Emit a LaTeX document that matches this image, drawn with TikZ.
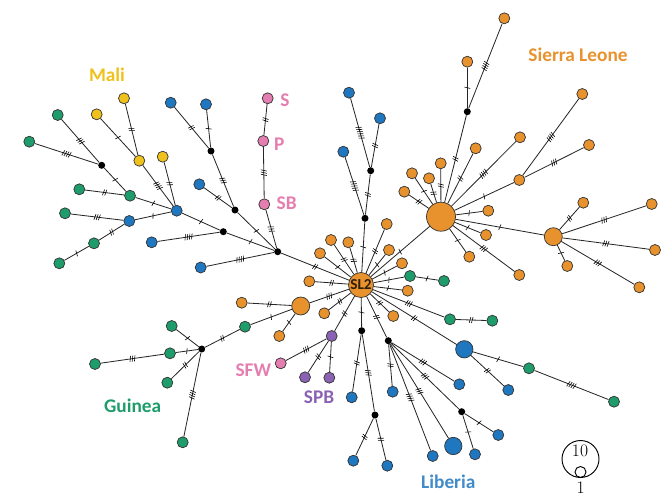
\documentclass[tikz,border=0pt]{standalone}
\usepackage{fontspec}
\usetikzlibrary{decorations.markings}
\newfontfamily\labfont{Carlito}

\definecolor{slo}{HTML}{E8922E}
\definecolor{lib}{HTML}{1F77C0}
\definecolor{gui}{HTML}{1F9C6B}
\definecolor{mal}{HTML}{EEC11C}
\definecolor{pnk}{HTML}{E57EB0}
\definecolor{prp}{HTML}{8B62B3}

\tikzset{
  hap/.style={circle, draw=black!80, line width=0.6pt, inner sep=0pt, minimum size=0.33cm},
  orng/.style={hap, fill=slo},
  blu/.style={hap, fill=lib},
  grn/.style={hap, fill=gui},
  ylw/.style={hap, fill=mal},
  pink/.style={hap, fill=pnk},
  purp/.style={hap, fill=prp},
  vx/.style={circle, fill=black, inner sep=0pt, minimum size=0.21cm},
  link/.style={line width=0.7pt, black!85},
  hatch/.style={postaction={decorate, decoration={markings, mark=at position 0.5 with {
      \foreach \k in {1,...,#1} {\draw[line width=0.5pt, black] ({(\k-0.5-#1/2)*1.9pt-0.6pt},-2.5pt) -- ++(1.2pt,5pt);}
  }}}},
  region/.style={font=\labfont\bfseries\fontsize{16.5}{18}\selectfont}
}

\begin{document}
\begin{tikzpicture}[x=0.03cm, y=-0.03cm]
  \useasboundingbox (0,0) rectangle (667,500);

  % haplotypes
  \node[orng, minimum size=0.75cm, font=\labfont\bfseries\fontsize{13}{13}\selectfont, text=black!80!slo] (SL2) at (361,285) {SL2};
  \node[orng, minimum size=0.87cm] (hubS) at (441,216.7) {};
  \node[orng, minimum size=0.54cm] (hub2) at (553.3,236.7) {};
  \node[orng, minimum size=0.54cm] (mO) at (300.7,306) {};
  \node[blu, minimum size=0.52cm] (bD3) at (453.3,446) {};
  \node[blu, minimum size=0.52cm] (bB1) at (464.3,349.3) {};

  \foreach \nm/\x/\y in {sA/504.3/18.3, sB/467.3/61.7, sC/582.3/94, sD/520/137.3, sE/589/145,
      sF/475.7/148.3, sG/519.3/180, sH/440.7/163.3, sI/429/178.3, sJ/412/173.3, sK/404.3/191.7,
      sL/488.3/210.7, sM/486/235, sN/469.3/256.7, sO/519.3/275, sP/583.3/202.7, sQ/651.7/204,
      sR/655/250, sS/567.3/266, sT/639.3/287.3, o1/386.7/224, o2/331/240, o3/348.3/242.3,
      o4/320/253.3, o5/389/250, o6/402/263.3, o7/309.3/281.3, o8/407.7/290.7, o9/324.3/313.3,
      o10/393.3/316, oL1/241.7/302.7, oL2/279.3/336}
    \node[orng] (\nm) at (\x,\y) {};

  \foreach \nm/\x/\y in {bT1/343.3/151.7, bT2/349/92.7, bT3/380/118.3, bL1/170.7/102.7,
      bL2/206/104.3, bL3/199.3/184.3, bH/176.7/210.7, bW/129.3/221, bL4/151.7/242.3,
      bL5/200.7/267.5, bC1/351.7/397.3, bC2/353.3/460.7, bC3/387.3/465.7, bD1/392.7/391.7,
      bD2/432.7/456, bD4/459.3/384.3, bF1/475/454.3, bF2/498.3/435, bB2/508.3/390}
    \node[blu] (\nm) at (\x,\y) {};

  \foreach \nm/\x/\y in {gA/410/276, gA2/444/281, gC/450/319.3, gC2/492.3/320.7, gB/529/368.3,
      gB2/614/401.7, gK/245/326.7, gL/171.7/326, gM/170/353.3, gN/95/364, gO/167.3/382.7,
      gP/182.7/442.3, gD/130/195.7, gE/79.3/189.3, gF/57.7/115, gG/29.3/141.7, gH/65/213.3,
      gI/94/243.3, gJ/59.3/263.3}
    \node[grn] (\nm) at (\x,\y) {};

  \foreach \nm/\x/\y in {yA/124/98.3, yB/96.7/114.3, yC/139.3/160.7, yD/162.7/156.7}
    \node[ylw] (\nm) at (\x,\y) {};
  \foreach \nm/\x/\y in {pS/267.7/98.3, pPk/263.3/141, pSB/264.3/204.3, pSFW/280.7/363.3}
    \node[pink] (\nm) at (\x,\y) {};
  \foreach \nm/\x/\y in {uA/331.7/336, uB/305/377.3, uC/329.3/377.7}
    \node[purp] (\nm) at (\x,\y) {};

  % median vectors
  \foreach \nm/\x/\y in {kA/467.3/111.7, kTop/365/218.3, kT2/370.7/170.7, kL/277.7/251.7,
      kM/235/210, kN/223.3/231.7, kU/211/151, kW/101.7/165.3, kG/201.7/349, kC/361.7/330.7,
      kE/375/415, kD/388.3/340.7, kF/461.7/411.7}
    \node[vx] (\nm) at (\x,\y) {};

  % links, with number of mutations
  \foreach \a/\b/\n in {SL2/hubS/1, SL2/o1/2, SL2/o2/2, SL2/o3/2, SL2/o4/1, SL2/o5/1, SL2/o6/1,
      SL2/o7/2, SL2/o8/1, SL2/o9/2, SL2/o10/2, SL2/kTop/1, SL2/kC/1, SL2/kD/2, SL2/gA/1,
      SL2/uA/2, SL2/mO/3, SL2/kL/2, SL2/bB1/2, SL2/gC/3,
      hubS/kA/2, kA/sB/1, kA/sA/4, hubS/sF/2, hubS/sD/4, hubS/sG/1, sG/sC/4, sG/sE/3,
      hubS/sH/2, hubS/sI/2, hubS/sJ/1, hubS/sK/2, hubS/sL/1, hubS/sM/1, hubS/sN/1, hubS/sO/3,
      hubS/hub2/1, hub2/sP/2, hub2/sQ/3, hub2/sR/3, hub2/sS/1, hub2/sT/3,
      kTop/bT1/5, kTop/kT2/2, kT2/bT2/6, kT2/bT3/2,
      kL/pSB/3, pSB/pPk/3, pPk/pS/2, kL/kM/1, kL/kN/1, kL/bL5/4, kM/kU/3, kM/bL3/2,
      kU/bL1/2, kU/bL2/1, kN/bH/1, kN/bL4/4, bH/yC/4, bH/yD/2, bH/gD/1, bH/bW/1,
      yC/yA/2, yC/yB/1, gD/kW/1, gD/gE/2, kW/gF/3, kW/gG/4, bW/gH/3, bW/gI/2, gI/gJ/1,
      mO/oL1/2, mO/oL2/1, mO/gK/1, gK/kG/2, kG/gL/1, kG/gM/1, gM/gN/3, kG/gO/2, kG/gP/4,
      uA/pSFW/3, uA/uB/2, uA/uC/1,
      kC/bC1/2, kC/kE/3, kE/bC2/2, kE/bC3/2, kD/bD1/2, kD/bD2/4, kD/bD3/3, kD/kF/3,
      kD/bD4/3, kF/bF1/1, kF/bF2/1, bB1/bB2/2, bB1/gB/1, gB/gB2/4, gC/gC2/2, gA/gA2/1}
    \draw[link, hatch=\n] (\a) -- (\b);

  % countries and samples
  \node[region, text=mal] (mali) at (107,75) {Mali};
  \node[region, text=slo] (sleone) at (578,55) {Sierra Leone};
  \node[region, text=gui] (guinea) at (132.7,406) {Guinea};
  \node[region, text=lib!85!white] (liberia) at (448.3,481.7) {Liberia};
  \node[region, text=pnk] (tS) at (285,100) {S};
  \node[region, text=pnk] (tP) at (279.3,144) {P};
  \node[region, text=pnk] (tSB) at (286.7,203.3) {SB};
  \node[region, text=pnk] (tSFW) at (253.3,370) {SFW};
  \node[region, text=prp] (tSPB) at (319,397.3) {SPB};

  % scale
  \node[circle, draw, line width=0.8pt, minimum size=1.11cm, inner sep=0pt] (lgBig) at (580.5,459) {};
  \node[circle, draw, line width=0.8pt, minimum size=0.33cm, inner sep=0pt] (lgSmall) at (580.5,472) {};
  \node[font=\fontsize{15}{15}\selectfont, inner sep=0pt] (lgTen) at (580,451) {10};
  \node[font=\fontsize{15}{15}\selectfont, inner sep=0pt] (lgOne) at (580.7,488) {1};
\end{tikzpicture}
\end{document}
